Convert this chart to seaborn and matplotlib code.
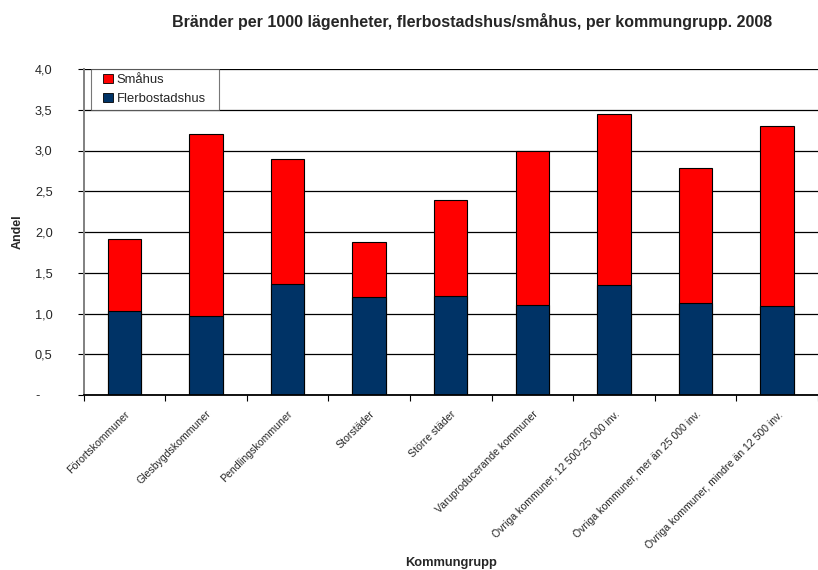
import matplotlib
matplotlib.use("Agg")
import matplotlib.pyplot as plt
from matplotlib.patches import Patch, Rectangle
from matplotlib.legend_handler import HandlerPatch
from matplotlib.ticker import FixedLocator, FuncFormatter
import seaborn as sns
import pandas as pd

categories = [
    "Förortskommuner",
    "Glesbygdskommuner",
    "Pendlingskommuner",
    "Storstäder",
    "Större städer",
    "Varuproducerande kommuner",
    "Övriga kommuner, 12 500-25 000 inv.",
    "Övriga kommuner, mer än 25 000 inv.",
    "Övriga kommuner, mindre än 12 500 inv.",
]
flerbostadshus = [1.03, 0.97, 1.36, 1.20, 1.21, 1.10, 1.35, 1.13, 1.09]
smahus = [0.88, 2.23, 1.53, 0.68, 1.18, 1.89, 2.10, 1.65, 2.21]

data = pd.DataFrame({
    "kommungrupp": categories,
    "flerbostadshus": flerbostadshus,
    "smahus": smahus,
})
data["total"] = data["flerbostadshus"] + data["smahus"]

blue = "#003366"
red = "#ff0000"

sns.set_style("white")
plt.rcParams["font.family"] = ["Liberation Sans", "DejaVu Sans"]

fig = plt.figure(figsize=(8.18, 5.70), dpi=100)
ax = fig.add_axes([83.5 / 818, 1 - 395 / 570, 1 - 83.5 / 818, (395 - 69) / 570])

# stacked bars: total in red, flerbostadshus in blue on top of it
sns.barplot(data=data, x="kommungrupp", y="total", color=red, width=0.41,
            edgecolor="black", linewidth=0.8, saturation=1, ax=ax)
sns.barplot(data=data, x="kommungrupp", y="flerbostadshus", color=blue, width=0.41,
            edgecolor="black", linewidth=0.8, saturation=1, ax=ax)

ax.set_ylim(0, 4.0)
ax.set_xlim(-0.5, len(categories) - 0.5)
ax.set_yticks([i * 0.5 for i in range(9)])
ax.yaxis.set_major_formatter(FuncFormatter(
    lambda v, p: "-" if v == 0 else f"{v:.1f}".replace(".", ",")))
ax.yaxis.grid(True, color="black", linewidth=0.9)
ax.set_axisbelow(True)

ax.set_xticks(range(len(categories)))
ax.set_xticklabels(categories, rotation=45, ha="right", rotation_mode="anchor",
                   fontsize=7.6)
ax.xaxis.set_minor_locator(FixedLocator([i - 0.5 for i in range(len(categories) + 1)]))
ax.tick_params(axis="x", which="major", length=0, pad=10)
ax.tick_params(axis="x", which="minor", length=4, width=0.8, color="black", direction="out",
               bottom=True)
ax.tick_params(axis="y", length=4, width=0.8, color="black", direction="out", left=True,
               labelsize=9.2, pad=31)
for lab in ax.get_yticklabels():
    lab.set_horizontalalignment("left")

for side in ["top", "right"]:
    ax.spines[side].set_visible(False)
ax.spines["left"].set_color("#808080")
ax.spines["left"].set_linewidth(1.4)
ax.spines["bottom"].set_color("black")
ax.spines["bottom"].set_linewidth(1.3)

ax.set_xlabel("Kommungrupp", fontsize=9.3, fontweight="bold", labelpad=0)
ax.xaxis.set_label_coords(0.5, (395 - 557) / (395 - 69))
ax.set_ylabel("Andel", fontsize=9, fontweight="bold")
ax.yaxis.set_label_coords((24 - 83.5) / (818 - 83.5), 0.5)

fig.text(472 / 818, 1 - 22 / 570, "Bränder per 1000 lägenheter, flerbostadshus/småhus, per kommungrupp. 2008",
         ha="center", va="center", fontsize=11.5, fontweight="bold")


def square(legend, orig_handle, xdescent, ydescent, width, height, fontsize):
    # small square at the right end of the handle area
    return Rectangle((-xdescent + width - height, -ydescent), height, height)


handles = [
    Patch(facecolor=red, edgecolor="black", linewidth=0.6, label="Småhus"),
    Patch(facecolor=blue, edgecolor="black", linewidth=0.6, label="Flerbostadshus"),
]
leg = ax.legend(handles=handles, loc="upper left",
                bbox_to_anchor=(7.5 / 734.5, 0, 128 / 734.5, 1.0), mode="expand",
                handler_map={Patch: HandlerPatch(patch_func=square)},
                fontsize=9.4, frameon=True, fancybox=False, handlelength=1.3,
                handleheight=0.7, handletextpad=0.3, borderpad=0.35, labelspacing=0.55,
                borderaxespad=0)
leg.get_frame().set_edgecolor("#555555")
leg.get_frame().set_linewidth(0.8)

fig.savefig("out.png", dpi=100)
